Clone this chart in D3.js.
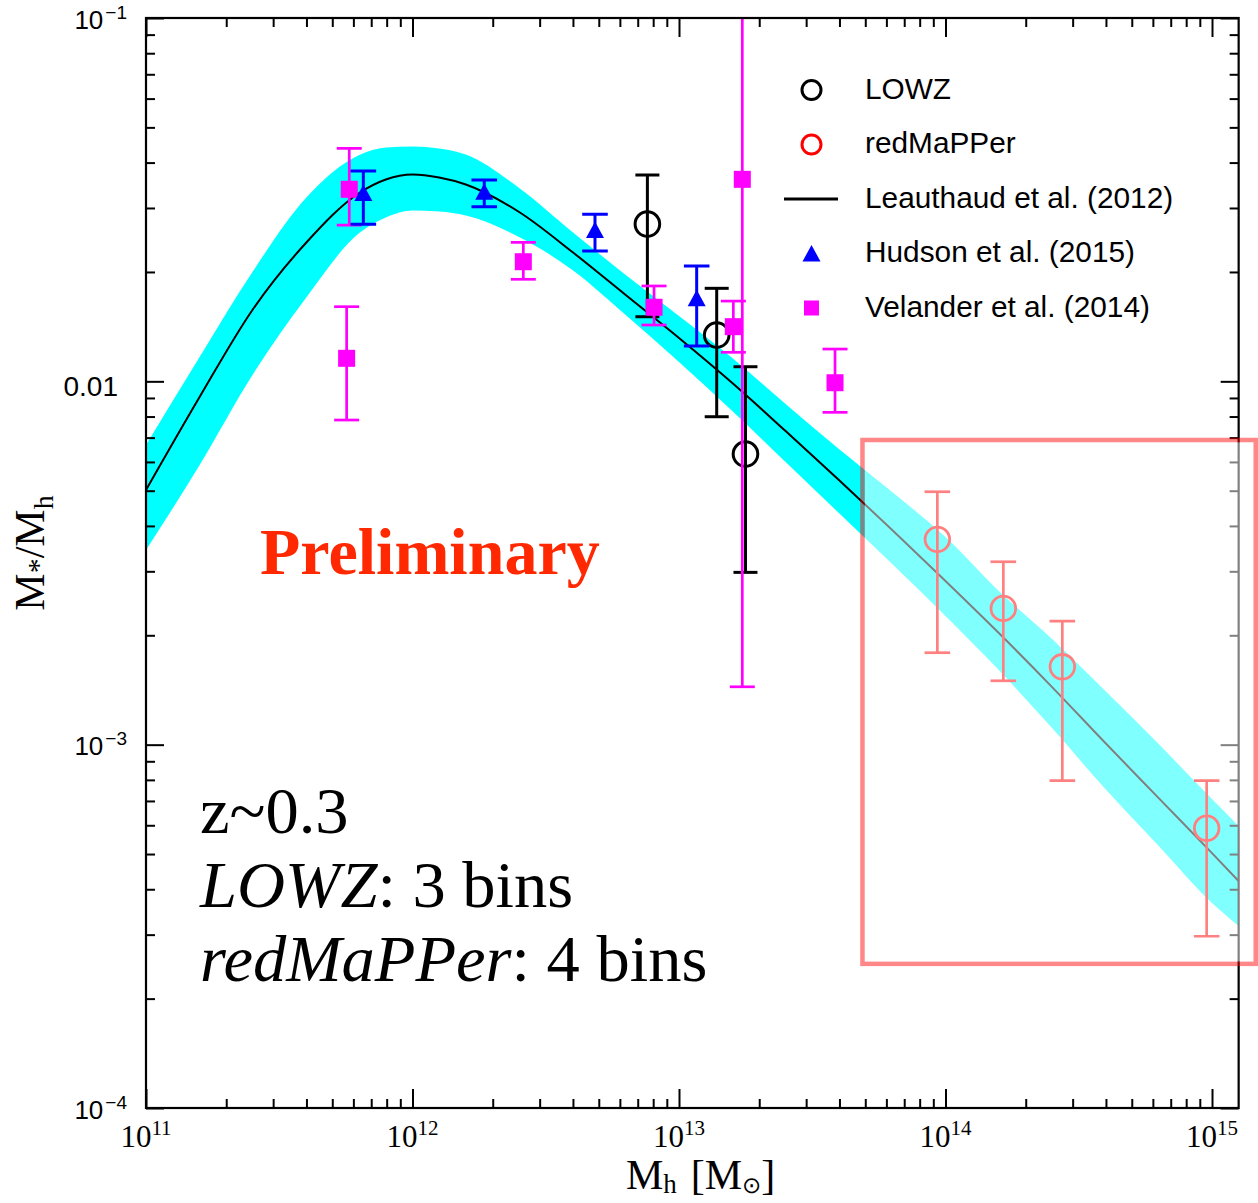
<!DOCTYPE html>
<html>
<head>
<meta charset="utf-8">
<script src="https://cdn.jsdelivr.net/npm/d3@7"></script>
<style>
  body { margin: 0; background: #fff; }
  svg { display: block; }
  .serif { font-family: "Liberation Serif", "Times New Roman", Times, serif; }
  .sans { font-family: "Liberation Sans", Arial, Helvetica, sans-serif; }
</style>
</head>
<body>
<svg id="chart" width="1258" height="1203"></svg>
<script>
// ---- Leauthaud et al. (2012) relation: halo mass grid, median M*/Mh and its band ----
const modelMh = [1e11, 1.585e11, 2.512e11, 3.981e11, 6.310e11, 7.943e11, 1e12, 1.259e12, 1.585e12,
                 2.512e12, 3.981e12, 6.310e12, 1e13, 1.585e13, 2.512e13, 3.981e13, 6.310e13,
                 1e14, 1.585e14, 2.512e14, 3.981e14, 6.310e14, 1e15, 1.259e15];
const modelRatio = [0.005022, 0.009025, 0.015742, 0.024027, 0.03298, 0.035935, 0.037094, 0.036395, 0.034814,
                    0.029242, 0.022695, 0.017281, 0.013160, 0.0098928, 0.0072978, 0.0053514, 0.0038975,
                    0.0028202, 0.0020284, 0.0014405, 0.0010102, 0.00071271, 0.00050302, 0.00042127];
const modelUpper = [0.0066775, 0.011629, 0.020030, 0.031952, 0.041963, 0.044008, 0.044289, 0.043730, 0.042097,
                    0.034046, 0.025757, 0.019616, 0.015126, 0.011591, 0.0086598, 0.0065101, 0.0049580,
                    0.0037276, 0.0026469, 0.0019526, 0.0014044, 0.0010038, 0.00070821, 0.00059691];
const modelLower = [0.0034332, 0.0058643, 0.010427, 0.016956, 0.025594, 0.028241, 0.029521, 0.029335, 0.028601,
                    0.024953, 0.020247, 0.015222, 0.011302, 0.0082851, 0.0059957, 0.0043400, 0.0031416,
                    0.0022594, 0.0016044, 0.0011108, 0.00075447, 0.00052607, 0.00036644, 0.00031673];

// ---- LOWZ (3 bins) ----
const lowzMh    = [7.61e12, 1.385e13, 1.776e13];
const lowzRatio = [0.02710, 0.01341, 0.006308];
const lowzLo    = [0.01506, 0.007991, 0.002980];
const lowzHi    = [0.03697, 0.01803, 0.01097];

// ---- redMaPPer (4 bins) ----
const rmMh    = [9.32e13, 1.648e14, 2.744e14, 9.55e14];
const rmRatio = [0.003674, 0.002372, 0.001638, 0.000589];
const rmLo    = [0.001791, 0.001499, 0.000796, 0.000297];
const rmHi    = [0.004967, 0.003187, 0.002189, 0.000796];

// ---- Hudson et al. (2015) ----
const hudMh    = [6.54e11, 1.859e12, 4.839e12, 1.165e13];
const hudRatio = [0.03298, 0.03325, 0.02609, 0.01693];
const hudLo    = [0.02704, 0.03024, 0.02284, 0.01251];
const hudHi    = [0.03792, 0.03581, 0.02882, 0.02077];

// ---- Velander et al. (2014) ----
const velMh    = [5.79e11, 5.66e11, 2.605e12, 8.06e12, 1.599e13, 1.728e13, 3.85e13];
const velRatio = [0.03377, 0.01157, 0.02134, 0.01599, 0.01414, 0.03597, 0.009911];
const velLo    = [0.02692, 0.007825, 0.01909, 0.01429, 0.01202, 0.001443, 0.008216];
const velHi    = [0.04378, 0.01605, 0.02413, 0.01830, 0.01663, 0.2, 0.01227];

// ---- highlighted cluster-mass region ----
const highlightMh    = [4.88e13, 1.459e15];
const highlightRatio = [2.493e-4, 6.895e-3];

// ---- ticks and labels ----
const xTickValues = [1e11, 1e12, 1e13, 1e14, 1e15];
const xTickBase   = ["10", "10", "10", "10", "10"];
const xTickSup    = ["11", "12", "13", "14", "15"];
const yTickValues = [1e-1, 1e-2, 1e-3, 1e-4];
const yTickBase   = ["10", "0.01", "10", "10"];
const yTickSup    = ["\u22121", "", "\u22123", "\u22124"];
const minorMultipliers = [2, 3, 4, 5, 6, 7, 8, 9];

const legendLabels = ["LOWZ", "redMaPPer", "Leauthaud et al. (2012)", "Hudson et al. (2015)", "Velander et al. (2014)"];

// ---------------------------------------------------------------
const svg = d3.select("#chart");
const plot = { left: 146, right: 1238.65, top: 18, bottom: 1108 };

const x = d3.scaleLog().domain([1e11, 1.2589e15]).range([plot.left, plot.right]);
const y = d3.scaleLog().domain([1e-4, 1e-1]).range([plot.bottom, plot.top]);

svg.append("defs").append("clipPath").attr("id", "plotClip")
  .append("rect")
  .attr("x", plot.left).attr("y", plot.top)
  .attr("width", plot.right - plot.left).attr("height", plot.bottom - plot.top);

const layer = svg.append("g").attr("clip-path", "url(#plotClip)");

// model band and median line
const model = modelMh.map((m, i) => ({ m, r: modelRatio[i], up: modelUpper[i], lo: modelLower[i] }));
layer.append("path").datum(model)
  .attr("fill", "#00ffff")
  .attr("d", d3.area().x(d => x(d.m)).y0(d => y(d.lo)).y1(d => y(d.up)).curve(d3.curveMonotoneX));
layer.append("path").datum(model)
  .attr("fill", "none").attr("stroke", "#000").attr("stroke-width", 2)
  .attr("d", d3.line().x(d => x(d.m)).y(d => y(d.r)).curve(d3.curveMonotoneX));

function toPoints(ms, rs, los, his) {
  return ms.map((m, i) => ({ m, r: rs[i], lo: los[i], hi: his[i] }));
}

function errorBars(g, pts, color, capHalf, width) {
  const eb = g.append("g").attr("stroke", color).attr("stroke-width", width).attr("fill", "none");
  eb.selectAll("line.v").data(pts).join("line").attr("class", "v")
    .attr("x1", d => x(d.m)).attr("x2", d => x(d.m))
    .attr("y1", d => y(d.lo)).attr("y2", d => y(d.hi));
  const caps = pts.flatMap(d => [{ m: d.m, v: d.lo }, { m: d.m, v: d.hi }]);
  eb.selectAll("line.c").data(caps).join("line").attr("class", "c")
    .attr("x1", d => x(d.m) - capHalf).attr("x2", d => x(d.m) + capHalf)
    .attr("y1", d => y(d.v)).attr("y2", d => y(d.v));
}

const trianglePath = "M0,-8.5L9,8L-9,8Z";

// LOWZ
const lowz = toPoints(lowzMh, lowzRatio, lowzLo, lowzHi);
errorBars(layer, lowz, "#000", 12, 3);
layer.append("g").selectAll("circle").data(lowz).join("circle")
  .attr("cx", d => x(d.m)).attr("cy", d => y(d.r)).attr("r", 12.3)
  .attr("fill", "none").attr("stroke", "#000").attr("stroke-width", 3);

// Velander
const vel = toPoints(velMh, velRatio, velLo, velHi);
errorBars(layer, vel, "#ff00ff", 12.5, 2.7);
layer.append("g").selectAll("rect").data(vel).join("rect")
  .attr("x", d => x(d.m) - 8.5).attr("y", d => y(d.r) - 8.5)
  .attr("width", 17).attr("height", 17).attr("fill", "#ff00ff");

// Hudson
const hud = toPoints(hudMh, hudRatio, hudLo, hudHi);
errorBars(layer, hud, "#0000ff", 12.8, 3);
layer.append("g").selectAll("path").data(hud).join("path")
  .attr("transform", d => `translate(${x(d.m)},${y(d.r)})`)
  .attr("d", trianglePath).attr("fill", "#0000ff");

// redMaPPer
const rm = toPoints(rmMh, rmRatio, rmLo, rmHi);
errorBars(layer, rm, "#ff0000", 12.8, 2.7);
layer.append("g").selectAll("circle").data(rm).join("circle")
  .attr("cx", d => x(d.m)).attr("cy", d => y(d.r)).attr("r", 12.3)
  .attr("fill", "none").attr("stroke", "#ff0000").attr("stroke-width", 2.8);

// ---- axes: inward ticks on all four sides ----
function minorValues(lo, hi) {
  const out = [];
  for (let e = Math.floor(Math.log10(lo)); e <= Math.ceil(Math.log10(hi)); e++) {
    minorMultipliers.forEach(k => {
      const v = k * Math.pow(10, e);
      if (v > lo && v < hi) out.push(v);
    });
  }
  return out;
}
const xMinor = minorValues(1e11, 1.2589e15);
const yMinor = minorValues(1e-4, 1e-1);

function styleAxis(g) {
  g.select(".domain").remove();
  g.selectAll(".tick line").attr("stroke", "#000").attr("stroke-width", 2);
  g.selectAll(".tick text").remove();
}
const axes = svg.append("g");
[[xTickValues, 19], [xMinor, 9]].forEach(([vals, len]) => {
  axes.append("g").attr("transform", `translate(0,${plot.bottom})`)
    .call(d3.axisBottom(x).tickValues(vals).tickSize(-len).tickFormat("")).call(styleAxis);
  axes.append("g").attr("transform", `translate(0,${plot.top})`)
    .call(d3.axisTop(x).tickValues(vals).tickSize(-len).tickFormat("")).call(styleAxis);
});
[[yTickValues, 18], [yMinor, 9]].forEach(([vals, len]) => {
  axes.append("g").attr("transform", `translate(${plot.left},0)`)
    .call(d3.axisLeft(y).tickValues(vals).tickSize(-len).tickFormat("")).call(styleAxis);
  axes.append("g").attr("transform", `translate(${plot.right},0)`)
    .call(d3.axisRight(y).tickValues(vals).tickSize(-len).tickFormat("")).call(styleAxis);
});
axes.append("rect")
  .attr("x", plot.left).attr("y", plot.top)
  .attr("width", plot.right - plot.left).attr("height", plot.bottom - plot.top)
  .attr("fill", "none").attr("stroke", "#000").attr("stroke-width", 2.2);

// x tick labels
xTickValues.forEach((v, i) => {
  const t = axes.append("text").attr("class", "serif")
    .attr("x", x(v)).attr("y", plot.bottom + 39).attr("text-anchor", "middle")
    .attr("font-size", 31).attr("fill", "#000");
  t.append("tspan").text(xTickBase[i]);
  t.append("tspan").attr("dy", -12).attr("font-size", 21).text(xTickSup[i]);
});

// y tick labels
yTickValues.forEach((v, i) => {
  const plain = yTickSup[i] === "";
  const t = axes.append("text").attr("class", "sans")
    .attr("x", plain ? 118 : 127).attr("y", y(v) + (plain ? 15 : 10.5))
    .attr("text-anchor", "end").attr("font-size", plain ? 28 : 26).attr("fill", "#000");
  t.append("tspan").text(yTickBase[i]);
  if (!plain) t.append("tspan").attr("dx", 2).attr("dy", -10).attr("font-size", 19).text(yTickSup[i]);
});

// axis titles
const xTitle = axes.append("text").attr("class", "serif")
  .attr("x", 626).attr("y", 1189).attr("font-size", 42).attr("fill", "#000");
xTitle.append("tspan").text("M");
xTitle.append("tspan").attr("dy", 4).attr("font-size", 27).text("h");
xTitle.append("tspan").attr("dy", -4).attr("dx", 14).text("[");
xTitle.append("tspan").text("M");
xTitle.append("tspan").attr("dy", 4).attr("font-size", 23).text("\u2299");
xTitle.append("tspan").attr("dy", -4).text("]");

const yTitle = axes.append("text").attr("class", "serif")
  .attr("transform", "translate(44,553) rotate(-90)")
  .attr("text-anchor", "middle").attr("font-size", 42).attr("fill", "#000");
yTitle.append("tspan").text("M");
yTitle.append("tspan").attr("dy", 4).attr("font-size", 30).text("*");
yTitle.append("tspan").attr("dy", -4).text("/M");
yTitle.append("tspan").attr("dy", 9).attr("font-size", 28).text("h");

// ---- highlighted cluster-mass region (white veil + red frame) ----
const hx0 = x(highlightMh[0]), hx1 = x(highlightMh[1]);
const hy0 = y(highlightRatio[1]), hy1 = y(highlightRatio[0]);
const bw = 4.5;
svg.append("rect")
  .attr("x", hx0 + bw / 2).attr("y", hy0 + bw / 2)
  .attr("width", hx1 - hx0 - bw).attr("height", hy1 - hy0 - bw)
  .attr("fill", "#fff").attr("fill-opacity", 0.5);
svg.append("rect")
  .attr("x", hx0).attr("y", hy0).attr("width", hx1 - hx0).attr("height", hy1 - hy0)
  .attr("fill", "none").attr("stroke", "#ff0000").attr("stroke-opacity", 0.47).attr("stroke-width", bw);

// ---- legend ----
const legend = svg.append("g");
const legX = 811.5, legTextX = 865, legY0 = 98.5, legStep = 54.5;
legendLabels.forEach((label, i) => {
  const by = legY0 + i * legStep, cy = by - 8.5;
  if (i === 0 || i === 1) {
    legend.append("circle").attr("cx", legX).attr("cy", cy).attr("r", 9.5)
      .attr("fill", "none").attr("stroke", i === 0 ? "#000" : "#ff0000").attr("stroke-width", 3);
  } else if (i === 2) {
    legend.append("line").attr("x1", 784).attr("x2", 838).attr("y1", cy).attr("y2", cy)
      .attr("stroke", "#000").attr("stroke-width", 3);
  } else if (i === 3) {
    legend.append("path").attr("transform", `translate(${legX},${cy})`).attr("d", trianglePath).attr("fill", "#0000ff");
  } else {
    legend.append("rect").attr("x", legX - 7.5).attr("y", cy - 7.5).attr("width", 15).attr("height", 15).attr("fill", "#ff00ff");
  }
  legend.append("text").attr("class", "sans").attr("x", legTextX).attr("y", by)
    .attr("font-size", 29.8).attr("fill", "#000").text(label);
});

// ---- annotations ----
svg.append("text").attr("class", "serif")
  .attr("x", 260).attr("y", 574).attr("font-size", 66).attr("font-weight", "bold")
  .attr("fill", "#ff2800").text("Preliminary");

const note = svg.append("g").attr("class", "serif").attr("font-size", 66.5).attr("fill", "#000");
note.append("text").attr("x", 200).attr("y", 833).text("z~0.3");
const l2 = note.append("text").attr("x", 200).attr("y", 907);
l2.append("tspan").attr("font-style", "italic").text("LOWZ");
l2.append("tspan").text(": 3 bins");
const l3 = note.append("text").attr("x", 200).attr("y", 981);
l3.append("tspan").attr("font-style", "italic").text("redMaPPer");
l3.append("tspan").text(": 4 bins");
</script>
</body>
</html>
